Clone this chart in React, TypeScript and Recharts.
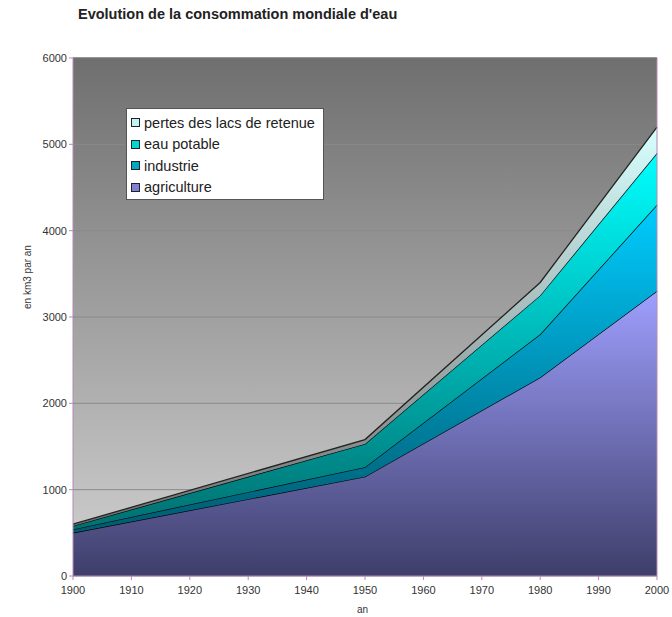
import { Area, AreaChart, CartesianGrid, ReferenceLine, XAxis, YAxis } from "recharts";

const years = [1900, 1950, 1980, 2000];
const agriculture = [500, 1150, 2300, 3300];
const industrie = [40, 110, 500, 1000];
const eauPotable = [40, 270, 450, 600];
const pertes = [20, 50, 150, 300];
const xTicks = [1900, 1910, 1920, 1930, 1940, 1950, 1960, 1970, 1980, 1990, 2000];
const yTicks = [0, 1000, 2000, 3000, 4000, 5000, 6000];

const data = years.map((an, i) => ({
  an,
  agriculture: agriculture[i],
  industrie: industrie[i],
  eauPotable: eauPotable[i],
  pertes: pertes[i],
}));

const legendItems = [
  { label: "pertes des lacs de retenue", color: "#bff2f2" },
  { label: "eau potable", color: "#00d8d8" },
  { label: "industrie", color: "#00a8c8" },
  { label: "agriculture", color: "#7f7fd8" },
];

const font = "'Liberation Sans', Arial, sans-serif";
const axisColor = "#b58ab5";

function LegendBox() {
  return (
    <div
      style={{
        position: "absolute",
        left: 126,
        top: 108,
        background: "#fff",
        border: "1px solid #555",
        width: 192,
        padding: "3px 0 1px 4px",
        fontFamily: font,
        fontSize: 14.5,
        color: "#222",
      }}
    >
      {legendItems.map((it) => (
        <div key={it.label} style={{ display: "flex", alignItems: "center", height: 21.5 }}>
          <span
            style={{
              width: 7,
              height: 7,
              background: it.color,
              border: "1px solid #222",
              marginRight: 4,
            }}
          />
          {it.label}
        </div>
      ))}
    </div>
  );
}

export default function App() {
  return (
    <div style={{ position: "absolute", left: 0, top: 0, width: 672, height: 617, background: "#fff" }}>
      <style>{`.recharts-surface{overflow:visible}`}</style>
      <div
        style={{
          position: "absolute",
          left: 78,
          top: 6,
          fontFamily: font,
          fontWeight: "bold",
          fontSize: 14.5,
          color: "#222",
        }}
      >
        Evolution de la consommation mondiale d'eau
      </div>
      <AreaChart width={672} height={617} data={data} margin={{ top: 58, right: 15, bottom: 0, left: 8 }}>
        <defs>
          <linearGradient id="bg" x1="0" y1="0" x2="0" y2="1">
            <stop offset="0%" stopColor="#6f6f6f" />
            <stop offset="100%" stopColor="#d2d2d2" />
          </linearGradient>
          <linearGradient id="gAgri" x1="0" y1="0" x2="0" y2="1">
            <stop offset="0%" stopColor="#9f9fff" />
            <stop offset="100%" stopColor="#3e3e6a" />
          </linearGradient>
          <linearGradient id="gInd" x1="0" y1="0" x2="0" y2="1">
            <stop offset="0%" stopColor="#00ccff" />
            <stop offset="100%" stopColor="#005a70" />
          </linearGradient>
          <linearGradient id="gEau" x1="0" y1="0" x2="0" y2="1">
            <stop offset="0%" stopColor="#00ffff" />
            <stop offset="100%" stopColor="#007070" />
          </linearGradient>
          <linearGradient id="gPertes" x1="0" y1="0" x2="0" y2="1">
            <stop offset="0%" stopColor="#d8ffff" />
            <stop offset="100%" stopColor="#707070" />
          </linearGradient>
        </defs>
        <CartesianGrid vertical={false} stroke="#8a8a8a" fill="url(#bg)" fillOpacity={1} />
        <XAxis
          dataKey="an"
          type="number"
          domain={[1900, 2000]}
          ticks={xTicks}
          height={41}
          tick={{ fontSize: 11, fill: "#333", fontFamily: font, dy: 4 }}
          tickLine={{ stroke: axisColor }}
          axisLine={{ stroke: axisColor }}
          tickSize={4}
        />
        <YAxis
          domain={[0, 6000]}
          ticks={yTicks}
          width={65}
          tick={{ fontSize: 11, fill: "#333", fontFamily: font }}
          tickLine={{ stroke: axisColor }}
          axisLine={{ stroke: axisColor }}
          tickSize={4}
          label={{
            value: "en km3 par an",
            angle: -90,
            position: "insideLeft",
            offset: 19,
            dy: -8,
            fontSize: 10,
            fill: "#333",
            fontFamily: font,
          }}
        />
        <Area type="linear" dataKey="agriculture" stackId="1" name="agriculture" stroke="#000" strokeWidth={1.3} fill="url(#gAgri)" fillOpacity={1} isAnimationActive={false} />
        <Area type="linear" dataKey="industrie" stackId="1" name="industrie" stroke="#000" strokeWidth={1.3} fill="url(#gInd)" fillOpacity={1} isAnimationActive={false} />
        <Area type="linear" dataKey="eauPotable" stackId="1" name="eau potable" stroke="#000" strokeWidth={1.3} fill="url(#gEau)" fillOpacity={1} isAnimationActive={false} />
        <Area type="linear" dataKey="pertes" stackId="1" name="pertes des lacs de retenue" stroke="#222" strokeWidth={1.3} fill="url(#gPertes)" fillOpacity={1} isAnimationActive={false} />
        <ReferenceLine x={2000} stroke={axisColor} />
        <ReferenceLine y={6000} stroke="#666" />
      </AreaChart>
      <div
        style={{
          position: "absolute",
          left: 357,
          top: 604,
          fontFamily: font,
          fontSize: 10,
          color: "#333",
        }}
      >
        an
      </div>
      <LegendBox />
    </div>
  );
}
